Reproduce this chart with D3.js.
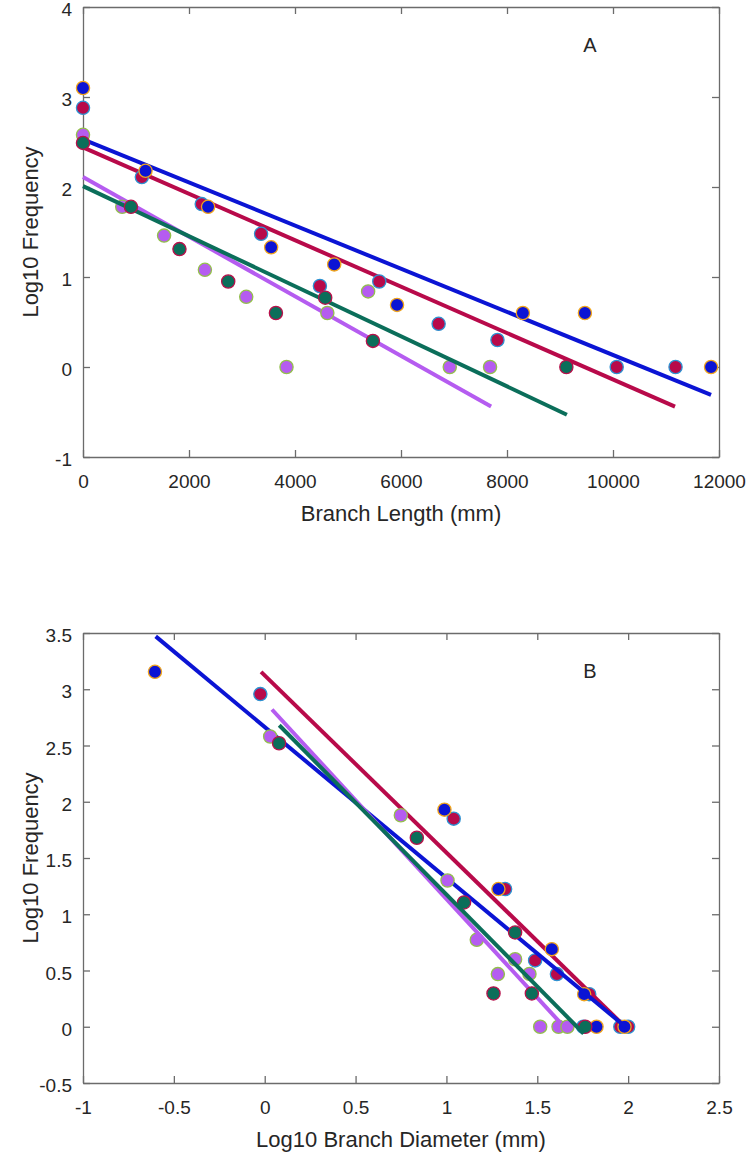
<!DOCTYPE html>
<html>
<head>
<meta charset="utf-8">
<script src="https://cdn.jsdelivr.net/npm/d3@7"></script>
<style>
body{margin:0;background:#fff}
text{font-family:"Liberation Sans",Arial,sans-serif}
</style>
</head>
<body>
<script>
// panel A : branch length vs log10 frequency
var lenBlue = [[0,3.10],[1180,2.18],[2360,1.78],[3550,1.33],[4740,1.14],[5925,0.69],[8300,0.60],[9470,0.60],[11850,0]]
var lenRed = [[0,2.88],[1110,2.11],[2240,1.81],[3360,1.48],[4470,0.90],[5590,0.95],[6710,0.48],[7820,0.30],[10070,0],[11180,0]]
var lenPurple = [[0,2.58],[740,1.78],[1530,1.46],[2300,1.08],[3080,0.78],[3840,0],[4610,0.60],[5380,0.84],[6920,0],[7680,0]]
var lenTeal = [[0,2.49],[905,1.78],[1820,1.31],[2740,0.95],[3640,0.60],[4570,0.77],[5470,0.29],[9120,0]]
var lenFitBlue = [[0,2.53],[11850,-0.31]]
var lenFitRed = [[0,2.44],[11170,-0.44]]
var lenFitPurple = [[0,2.11],[7700,-0.44]]
var lenFitTeal = [[0,2.01],[9130,-0.53]]

// panel B : log10 branch diameter vs log10 frequency
var diaBlue = [[-0.604,3.155],[0.989,1.93],[1.286,1.224],[1.58,0.69],[1.758,0.29],[1.826,0],[1.98,0]]
var diaRed = [[-0.024,2.957],[1.04,1.85],[1.323,1.224],[1.488,0.59],[1.608,0.468],[1.786,0.29],[1.753,0],[1.957,0],[2.0,0]]
var diaPurple = [[0.03,2.58],[0.749,1.88],[1.006,1.30],[1.167,0.773],[1.283,0.468],[1.378,0.60],[1.457,0.47],[1.516,0],[1.617,0],[1.666,0]]
var diaTeal = [[0.079,2.52],[0.837,1.68],[1.097,1.105],[1.259,0.296],[1.378,0.838],[1.47,0.296],[1.764,0]]
var diaFitBlue = [[-0.6,3.47],[1.985,0.0]]
var diaFitRed = [[-0.02,3.155],[1.97,0.02]]
var diaFitPurple = [[0.04,2.82],[1.63,0.03]]
var diaFitTeal = [[0.08,2.68],[1.755,-0.06]]

var ticksLen = [0,2000,4000,6000,8000,10000,12000]
var ticksLenY = [-1,0,1,2,3,4]
var ticksDia = [-1,-0.5,0,0.5,1,1.5,2,2.5]
var ticksDiaY = [-0.5,0,0.5,1,1.5,2,2.5,3,3.5]

var width = 751
var height = 1157

var fill = {blue:"#0b14d4",red:"#b80a4a",purple:"#b55cf0",teal:"#0b6e5a"}
var edge = {blue:"#f0a41c",red:"#2d92d2",purple:"#93c04c",teal:"#b8104a"}

var svg = d3.select("body").append("svg")
	.attr("width",width)
	.attr("height",height)

var fmt = function(d){return String(d)}

function panel(opt){
	var x = d3.scaleLinear().domain(opt.xd).range([83,719])
	var y = d3.scaleLinear().domain(opt.yd).range([opt.bottom,opt.top])
	var g = svg.append("g")

	// box + inward ticks
	g.append("g").attr("transform","translate(0,"+opt.bottom+")")
		.call(d3.axisBottom(x).tickValues(opt.xt).tickSizeInner(-7).tickSizeOuter(0).tickPadding(18).tickFormat(fmt))
	g.append("g").attr("transform","translate(0,"+opt.top+")")
		.call(d3.axisTop(x).tickValues(opt.xt).tickSizeInner(-7).tickSizeOuter(0).tickFormat(""))
	g.append("g").attr("class","yax").attr("transform","translate(83,0)")
		.call(d3.axisLeft(y).tickValues(opt.yt).tickSizeInner(-7).tickSizeOuter(0).tickPadding(11).tickFormat(fmt))
	g.append("g").attr("transform","translate(719,0)")
		.call(d3.axisRight(y).tickValues(opt.yt).tickSizeInner(-7).tickSizeOuter(0).tickFormat(""))
	g.selectAll(".domain").attr("stroke","#6b6b6b").attr("stroke-width",1.3)
	g.selectAll(".tick line").attr("stroke","#6b6b6b").attr("stroke-width",1.3)
	g.selectAll(".tick text").attr("fill","#262626").style("font-size","19px").style("font-family","Liberation Sans, Arial, sans-serif")
	g.selectAll(".yax .tick text").attr("dy","0.45em")

	var line = d3.line().x(function(d){return x(d[0])}).y(function(d){return y(d[1])})

	opt.series.forEach(function(s){
		if(opt.lineFirst){
			g.append("path").datum(s.fit).attr("d",line).attr("fill","none").attr("stroke",fill[s.c]).attr("stroke-width",4)
		}
		g.append("g").selectAll("circle")
			.data(s.pts)
			.enter()
			.append("circle")
			.attr("cx",function(d){return x(d[0])})
			.attr("cy",function(d){return y(d[1])})
			.attr("r",6.6)
			.attr("fill",fill[s.c])
			.attr("stroke",edge[s.c])
			.attr("stroke-width",1.3)
		if(!opt.lineFirst){
			g.append("path").datum(s.fit).attr("d",line).attr("fill","none").attr("stroke",fill[s.c]).attr("stroke-width",4)
		}
	})

	g.append("text").text(opt.xlab)
		.attr("x",401).attr("y",opt.bottom+64)
		.attr("text-anchor","middle").attr("fill","#262626").style("font-size","22px")
	g.append("text").text("Log10 Frequency")
		.attr("transform","translate(38,"+((opt.top+opt.bottom)/2)+") rotate(-90)")
		.attr("text-anchor","middle").attr("fill","#262626").style("font-size","22px")
	g.append("text").text(opt.letter)
		.attr("x",590).attr("y",opt.top+45)
		.attr("text-anchor","middle").attr("fill","#262626").style("font-size","20px")
}

panel({xd:[0,12000],yd:[-1,4],top:7,bottom:457,xt:ticksLen,yt:ticksLenY,
	xlab:"Branch Length (mm)",letter:"A",lineFirst:true,
	series:[{c:"red",pts:lenRed,fit:lenFitRed},{c:"blue",pts:lenBlue,fit:lenFitBlue},
		{c:"purple",pts:lenPurple,fit:lenFitPurple},{c:"teal",pts:lenTeal,fit:lenFitTeal}]})

panel({xd:[-1,2.5],yd:[-0.5,3.5],top:633,bottom:1083,xt:ticksDia,yt:ticksDiaY,
	xlab:"Log10 Branch Diameter (mm)",letter:"B",lineFirst:false,
	series:[{c:"red",pts:diaRed,fit:diaFitRed},{c:"blue",pts:diaBlue,fit:diaFitBlue},
		{c:"purple",pts:diaPurple,fit:diaFitPurple},{c:"teal",pts:diaTeal,fit:diaFitTeal}]})
</script>
</body>
</html>
